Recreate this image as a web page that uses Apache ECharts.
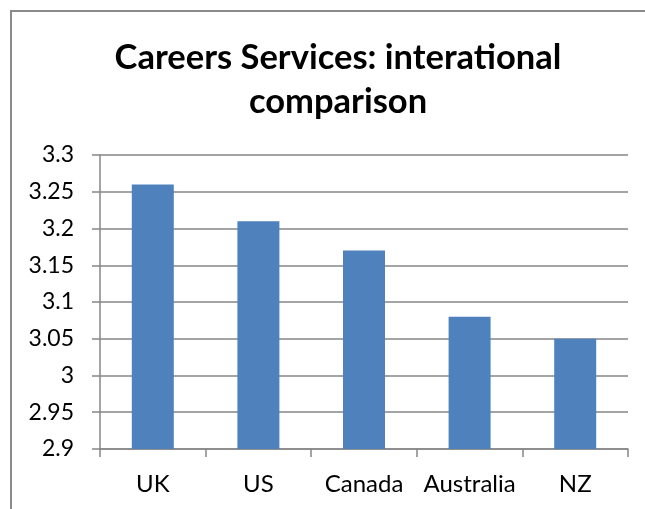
<!DOCTYPE html>
<html>
<head>
<meta charset="utf-8">
<script src="https://cdn.jsdelivr.net/npm/echarts@6/dist/echarts.min.js"></script>
<style>
  html, body { margin: 0; padding: 0; background: #fff; }
  #chart { width: 645px; height: 509px; }
</style>
</head>
<body>
<div id="chart"></div>
<script>
// Careers services ratings by country
const countries = ['UK', 'US', 'Canada', 'Australia', 'NZ'];
const scores = [3.26, 3.21, 3.17, 3.08, 3.05];
const yMin = 2.9;
const yMax = 3.3;
const yStep = 0.05;

const gridColor = '#868686';
const font = 'Lato, "Open Sans", "Liberation Sans", sans-serif';

const chart = echarts.init(document.getElementById('chart'), null, { renderer: 'canvas' });
chart.setOption({
  animation: false,
  backgroundColor: '#fff',
  title: {
    text: 'Careers Services: interational\ncomparison',
    left: 333,
    top: 31,
    textAlign: 'center',
    textStyle: {
      fontFamily: font,
      fontWeight: 'bold',
      fontSize: 34.5,
      lineHeight: 44,
      color: '#000'
    }
  },
  graphic: [{
    type: 'rect',
    shape: { x: 11, y: 11, width: 700, height: 600 },
    style: { fill: 'none', stroke: '#8a8a8a', lineWidth: 2 },
    silent: true
  }],
  grid: { left: 100, right: 17, top: 155, bottom: 60 },
  xAxis: {
    type: 'category',
    data: countries,
    axisLine: { lineStyle: { color: gridColor, width: 1.5 } },
    axisTick: { show: true, interval: 0, length: 8, lineStyle: { color: gridColor, width: 1.5 } },
    axisLabel: { color: '#000', fontFamily: font, fontSize: 24, margin: 23, interval: 0, hideOverlap: false }
  },
  yAxis: {
    type: 'value',
    min: yMin,
    max: yMax,
    interval: yStep,
    axisLine: { show: true, lineStyle: { color: gridColor, width: 1.5 } },
    axisTick: { show: true, length: 8, lineStyle: { color: gridColor, width: 1.5 } },
    splitLine: { lineStyle: { color: gridColor, width: 1.5 } },
    axisLabel: {
      color: '#000', fontFamily: font, fontSize: 23, margin: 26,
      formatter: v => String(parseFloat(v.toFixed(2)))
    }
  },
  series: [{
    type: 'bar',
    data: scores,
    barWidth: 42,
    itemStyle: { color: '#4F81BD' }
  }]
});
</script>
</body>
</html>
